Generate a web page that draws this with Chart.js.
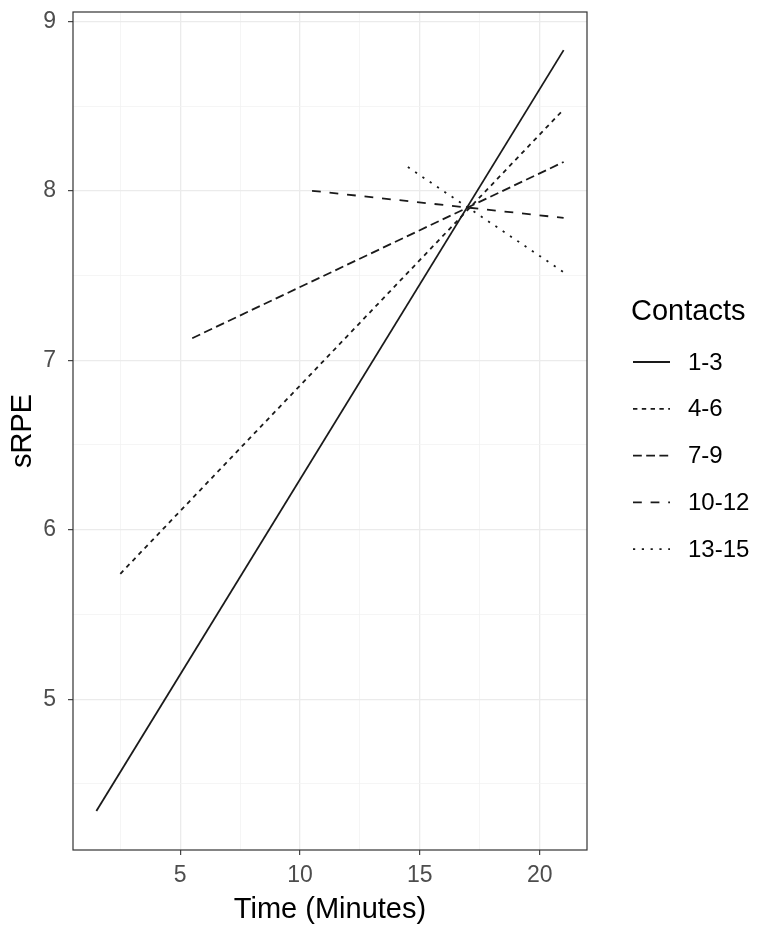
<!DOCTYPE html>
<html>
<head>
<meta charset="utf-8">
<script src="https://cdn.jsdelivr.net/npm/chart.js@4.4.1/dist/chart.umd.min.js"></script>
<style>
  html, body { margin: 0; padding: 0; background: #fff; }
</style>
</head>
<body>
<canvas id="srpeChart" width="758" height="926"></canvas>
<script>
// Fitted sRPE lines, one per contact group
const contactGroups = ['1-3', '4-6', '7-9', '10-12', '13-15'];
const timeStart = [1.5, 2.5, 5.5, 10.5, 14.5];
const timeEnd = [21, 21, 21, 21, 21];
const srpeStart = [4.34, 5.74, 7.13, 8.00, 8.14];
const srpeEnd = [8.83, 8.48, 8.17, 7.84, 7.52];

// Major ticks get labels, minor ones only a grid line
const xMajorTicks = [5, 10, 15, 20];
const xMinorTicks = [2.5, 7.5, 12.5, 17.5];
const yMajorTicks = [5, 6, 7, 8, 9];
const yMinorTicks = [4.5, 5.5, 6.5, 7.5, 8.5];

// linetypes: solid, 22, 42, 44, 13
const dashes = [[], [4.4, 4.4], [8.8, 4.4], [8.8, 8.8], [2.2, 6.6]];

const FONT = "'Liberation Sans', Arial, sans-serif";
const LINE_COLOR = '#1a1a1a';

const datasets = contactGroups.map((g, i) => ({
    label: g,
    data: [
        { x: timeStart[i], y: srpeStart[i] },
        { x: timeEnd[i], y: srpeEnd[i] }
    ],
    borderColor: LINE_COLOR,
    borderWidth: 1.8,
    borderDash: dashes[i],
    borderCapStyle: 'butt',
    pointRadius: 0,
    fill: false
}));

function gridStyle(majors) {
    const isMajor = c => c.tick && majors.includes(c.tick.value);
    return {
        color: c => isMajor(c) ? '#EBEBEB' : '#F2F2F2',
        lineWidth: c => isMajor(c) ? 1.3 : 0.8,
        drawTicks: true,
        tickLength: 5,
        tickWidth: 1.1,
        tickColor: c => isMajor(c) ? '#333333' : 'rgba(0,0,0,0)'
    };
}

function setTicks(majors, minors) {
    return axis => {
        axis.ticks = majors.concat(minors).sort((a, b) => a - b).map(v => ({ value: v }));
    };
}

// fixed box size, and no extra room for the end labels
function fixSize(prop, size) {
    return s => {
        s[prop] = size;
        s.paddingTop = s.paddingBottom = s.paddingLeft = s.paddingRight = 0;
    };
}

// dark panel border on all four sides
const panelBorder = {
    id: 'panelBorder',
    afterDraw(chart) {
        const { ctx, chartArea: a } = chart;
        ctx.save();
        ctx.strokeStyle = '#333333';
        ctx.lineWidth = 1.2;
        ctx.strokeRect(a.left, a.top, a.right - a.left, a.bottom - a.top);
        ctx.restore();
    }
};

// legend with line keys, to the right of the panel
const lineLegend = {
    id: 'lineLegend',
    afterDraw(chart) {
        const { ctx } = chart;
        const x0 = 633, keyW = 37, textX = 688;
        const titleY = 312, firstY = 362, stepY = 46.8;
        ctx.save();
        ctx.fillStyle = '#000';
        ctx.textBaseline = 'middle';
        ctx.font = '29px ' + FONT;
        ctx.fillText('Contacts', 631, titleY);
        ctx.font = '24px ' + FONT;
        chart.data.datasets.forEach((ds, i) => {
            const y = firstY + i * stepY;
            ctx.strokeStyle = ds.borderColor;
            ctx.lineWidth = ds.borderWidth;
            ctx.lineCap = 'butt';
            ctx.setLineDash(ds.borderDash);
            ctx.beginPath();
            ctx.moveTo(x0, y);
            ctx.lineTo(x0 + keyW, y);
            ctx.stroke();
            ctx.setLineDash([]);
            ctx.fillText(ds.label, textX, y + 1);
        });
        ctx.restore();
    }
};

new Chart(document.getElementById('srpeChart'), {
    type: 'line',
    data: { datasets },
    plugins: [panelBorder, lineLegend],
    options: {
        responsive: false,
        animation: false,
        layout: { padding: { top: 12, right: 171, left: 0, bottom: 0 } },
        plugins: {
            legend: { display: false },
            tooltip: { enabled: false }
        },
        scales: {
            x: {
                type: 'linear',
                min: 0.525,
                max: 21.975,
                afterBuildTicks: setTicks(xMajorTicks, xMinorTicks),
                afterFit: fixSize('height', 76),
                border: { display: false },
                grid: gridStyle(xMajorTicks),
                ticks: {
                    autoSkip: false,
                    maxRotation: 0,
                    color: '#4D4D4D',
                    padding: 9,
                    font: { family: FONT, size: 23, lineHeight: 1 },
                    callback: v => xMajorTicks.includes(v) ? String(v) : ''
                },
                title: {
                    display: true,
                    text: 'Time (Minutes)',
                    color: '#000',
                    font: { family: FONT, size: 29, lineHeight: 1.1 },
                    padding: { top: 0, bottom: 0 }
                }
            },
            y: {
                type: 'linear',
                min: 4.11,
                max: 9.055,
                afterBuildTicks: setTicks(yMajorTicks, yMinorTicks),
                afterFit: fixSize('width', 73),
                border: { display: false },
                grid: gridStyle(yMajorTicks),
                ticks: {
                    autoSkip: false,
                    color: '#4D4D4D',
                    padding: 12,
                    font: { family: FONT, size: 23 },
                    callback: v => yMajorTicks.includes(v) ? String(v) : ''
                },
                title: {
                    display: true,
                    text: 'sRPE',
                    color: '#000',
                    font: { family: FONT, size: 29 },
                    padding: { top: 6, bottom: 0 }
                }
            }
        }
    }
});
</script>
</body>
</html>
